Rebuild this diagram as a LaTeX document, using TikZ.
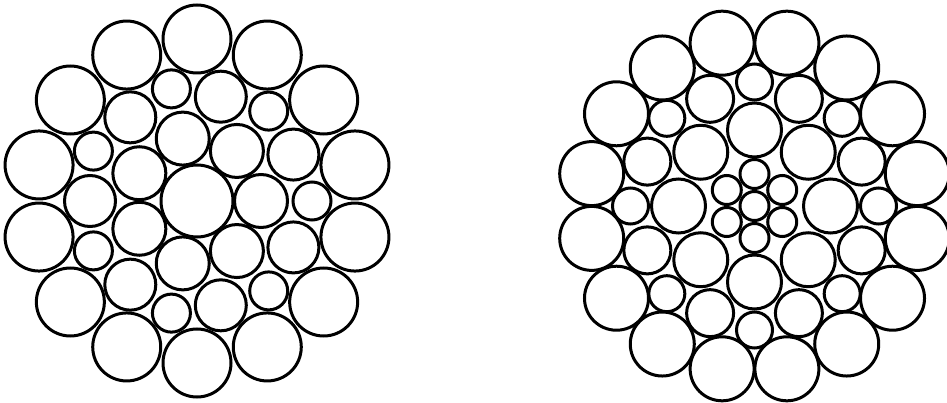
\documentclass[tikz,border=0pt]{standalone}
\usepackage{xcolor}
\usepackage{tikz}
\definecolor{ropeInk}{HTML}{000000}

\begin{document}
\begin{tikzpicture}[x=1pt,y=1pt,wire/.style={ropeInk,line width=3pt}]
  \useasboundingbox (0,0) rectangle (947,402);

  % left strand: core, 7 inner, 7+7 filler, 14 outer
  \begin{scope}[shift={(197,201)}]
    \draw[wire] (0,0) circle[radius=36];
    \foreach \i [evaluate=\i as \a using \i*360/7] in {0,...,6} {
      \draw[wire] (\a:64) circle[radius=26.5];
      \draw[wire] (\a:115) circle[radius=19];
      \draw[wire] ({\a+180/7}:107) circle[radius=25.5];
    }
    \foreach \i [evaluate=\i as \a using (\i+0.5)*360/14] in {0,...,13}
      \draw[wire] (\a:162) circle[radius=34];
  \end{scope}

  % right strand: 1+6 core, 8 inner, 8+8 filler, 16 outer
  \begin{scope}[shift={(754.5,196)}]
    \draw[wire] (0,0) circle[radius=14.5];
    \foreach \a in {30,90,...,330}
      \draw[wire] (\a:32) circle[radius=14.5];
    \foreach \a in {0,45,...,315} {
      \draw[wire] (\a:76) circle[radius=27];
      \draw[wire] (\a:124) circle[radius=18];
      \draw[wire] ({\a+22.5}:116) circle[radius=23.5];
    }
    \foreach \a in {11.25,33.75,...,350}
      \draw[wire] (\a:166) circle[radius=32];
  \end{scope}
\end{tikzpicture}
\end{document}
